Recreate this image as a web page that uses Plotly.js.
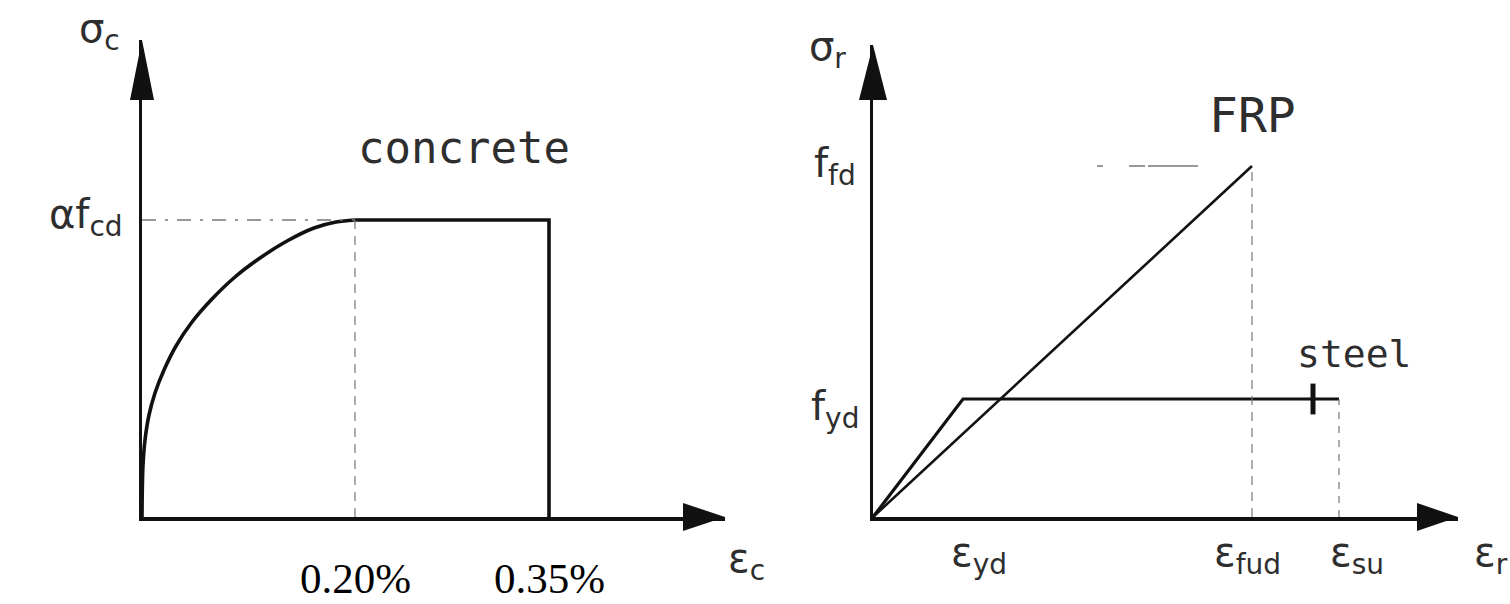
<!DOCTYPE html>
<html>
<head>
<meta charset="utf-8">
<script src="https://cdn.plot.ly/plotly-3.0.1.min.js"></script>
<style>html,body{margin:0;padding:0;background:#fff;}#chart{width:1510px;height:604px;}</style>
</head>
<body>
<div id="chart"></div>
<script>
// ---------- DATA (schematic units) ----------
// Left: concrete parabola-rectangle diagram
const concreteCurveStrain = [0, 0.003, 0.01, 0.03, 0.07, 0.13, 0.22, 0.34, 0.50, 0.70, 0.93, 1.18, 1.45, 1.72, 1.94, 2.13];
const concreteCurveStress = [0, 0.27, 0.52, 0.77, 1.02, 1.24, 1.47, 1.71, 1.95, 2.18, 2.40, 2.59, 2.76, 2.89, 2.95, 2.97];
const epsC2 = 2.13;          // position of 0.20%
const epsCu = 4.07;          // position of 0.35%
const alphaFcd = 2.97;       // αf_cd level
const concreteTickLabels = ['0.20%', '0.35%'];

// Right: reinforcement diagrams
const frpStrain = [0, 3.79];
const frpStress = [0, 3.51];
const steelStrain = [0, 0.90, 4.66];
const steelStress = [0, 1.18, 1.18];
const steelMarkStrain = 4.40;
const ffdDashStrain = [2.24, 3.25];

// axis extents (arrow tips)
const leftXMax = 5.83, leftYMax = 4.77;
const rightXMax = 5.85, rightYMax = 4.72;

// ---------- LAYOUT HELPERS ----------
const W = 1510, H = 604;
const leftXDom = [142 / W, 725 / W];
const rightXDom = [873 / W, 1458 / W];
const leftYDom = [1 - 517 / H, 1 - 40 / H];
const rightYDom = [1 - 517 / H, 1 - 45 / H];

const ink = '#111';
const pencil = '#2e2e2e';
const dashGrey = '#777';
const hand = 'DejaVu Sans, sans-serif';
const handMono = 'DejaVu Sans Mono, monospace';

function line(xs, ys, xa, ya, width, color, dash, shape) {
  return {type: 'scatter', mode: 'lines', x: xs, y: ys, xaxis: xa, yaxis: ya,
    line: {width: width, color: color, dash: dash || 'solid', shape: shape || 'linear', smoothing: 1},
    hoverinfo: 'skip'};
}

const traces = [
  // left
  line(concreteCurveStrain, concreteCurveStress, 'x', 'y', 3.6, ink, 'solid', 'spline'),
  line([epsC2, epsCu, epsCu], [alphaFcd, alphaFcd, 0], 'x', 'y', 3.6, ink),
  line([0, epsC2], [alphaFcd, alphaFcd], 'x', 'y', 1.3, dashGrey, '14px,9px,3px,9px'),
  line([epsC2, epsC2], [0, alphaFcd], 'x', 'y', 1.2, dashGrey, '9px,7px'),
  // right
  line(frpStrain, frpStress, 'x2', 'y2', 2.6, ink),
  line(steelStrain, steelStress, 'x2', 'y2', 3.2, ink),
  line([frpStrain[1], frpStrain[1]], [0, frpStress[1]], 'x2', 'y2', 1.2, dashGrey, '9px,7px'),
  line([steelStrain[2], steelStrain[2]], [0, steelStress[2]], 'x2', 'y2', 1.2, dashGrey, '7px,7px'),
  line(ffdDashStrain, [frpStress[1], frpStress[1]], 'x2', 'y2', 1.3, dashGrey, '6px,26px,16px,3px,60px'),
  {type: 'scatter', mode: 'markers', x: [steelMarkStrain], y: [steelStress[2]], xaxis: 'x2', yaxis: 'y2',
    marker: {symbol: 'line-ns', size: 22, line: {width: 5, color: ink}}, hoverinfo: 'skip'}
];

function axis(domain, range, anchor) {
  return {domain: domain, range: range, anchor: anchor, showline: true, linewidth: 3.5, linecolor: ink,
    showgrid: false, zeroline: false, showticklabels: false, ticks: '', fixedrange: true};
}

// arrowheads in paper coordinates at the axis ends
function upArrow(xDom, yDom, len, hw) {
  const x0 = xDom[0], yt = yDom[1];
  const yb = yt - len / H, dx = hw / W;
  return {type: 'path', xref: 'paper', yref: 'paper', fillcolor: ink, line: {width: 0},
    path: `M ${x0 - dx},${yb} L ${x0 + dx},${yb} L ${x0},${yt} Z`};
}
function rightArrow(xDom, yDom, len, hh) {
  const y0 = yDom[0], xt = xDom[1];
  const xb = xt - len / W, dy = hh / H;
  return {type: 'path', xref: 'paper', yref: 'paper', fillcolor: ink, line: {width: 0},
    path: `M ${xb},${y0 - dy} L ${xb},${y0 + dy} L ${xt},${y0} Z`};
}

function ann(text, xref, x, yref, y, opts) {
  return Object.assign({text: text, xref: xref, x: x, yref: yref, y: y, showarrow: false,
    font: {family: hand, size: 40, color: pencil}, xanchor: 'center', yanchor: 'middle'}, opts);
}

const serif = {family: 'Liberation Serif, Times New Roman, serif', size: 43, color: '#000'};

const annotations = [
  // left
  ann('σ<sub>c</sub>', 'x', 0, 'y', leftYMax, {xanchor: 'right', xshift: -20, yshift: 9}),
  ann('αf<sub>cd</sub>', 'x', 0, 'y', alphaFcd, {xanchor: 'right', xshift: -17, yshift: 3}),
  ann('ε<sub>c</sub>', 'x', leftXMax, 'y', 0, {xanchor: 'left', xshift: 1, yshift: -44}),
  ann('concrete', 'x', (epsC2 + epsCu) / 2, 'y', alphaFcd, {xshift: 12, yshift: 73,
    font: {family: handMono, size: 44, color: pencil}}),
  ann(concreteTickLabels[0], 'x', epsC2, 'y', 0, {yshift: -61, font: serif}),
  ann(concreteTickLabels[1], 'x', epsCu, 'y', 0, {yshift: -61, font: serif}),
  // right
  ann('σ<sub>r</sub>', 'x2', 0, 'y2', rightYMax, {xanchor: 'right', xshift: -25, yshift: -4}),
  ann('f<sub>fd</sub>', 'x2', 0, 'y2', frpStress[1], {xanchor: 'right', xshift: -15, yshift: 0}),
  ann('f<sub>yd</sub>', 'x2', 0, 'y2', steelStress[1], {xanchor: 'right', xshift: -12, yshift: -10}),
  ann('FRP', 'x2', frpStrain[1], 'y2', frpStress[1], {yshift: 51,
    font: {family: handMono, size: 48, color: pencil}}),
  ann('steel', 'x2', steelStrain[2], 'y2', steelStress[2], {xshift: 15, yshift: 45,
    font: {family: handMono, size: 38, color: pencil}}),
  ann('ε<sub>yd</sub>', 'x2', steelStrain[1], 'y2', 0, {xshift: 16, yshift: -38}),
  ann('ε<sub>fud</sub>', 'x2', frpStrain[1], 'y2', 0, {xshift: -5, yshift: -38}),
  ann('ε<sub>su</sub>', 'x2', steelStrain[2], 'y2', 0, {xshift: 18, yshift: -38}),
  ann('ε<sub>r</sub>', 'x2', rightXMax, 'y2', 0, {xanchor: 'left', xshift: 14, yshift: -38})
];

const layout = {
  width: W, height: H, margin: {l: 0, r: 0, t: 0, b: 0},
  paper_bgcolor: '#fff', plot_bgcolor: 'rgba(0,0,0,0)', showlegend: false,
  xaxis: axis(leftXDom, [0, leftXMax], 'y'),
  yaxis: axis(leftYDom, [0, leftYMax], 'x'),
  xaxis2: axis(rightXDom, [0, rightXMax], 'y2'),
  yaxis2: axis(rightYDom, [0, rightYMax], 'x2'),
  shapes: [
    upArrow(leftXDom, leftYDom, 60, 12), rightArrow(leftXDom, leftYDom, 42, 14),
    upArrow(rightXDom, rightYDom, 55, 14), rightArrow(rightXDom, rightYDom, 41, 14)
  ],
  annotations: annotations
};

Plotly.newPlot('chart', traces, layout, {staticPlot: true, displayModeBar: false});
</script>
</body>
</html>
